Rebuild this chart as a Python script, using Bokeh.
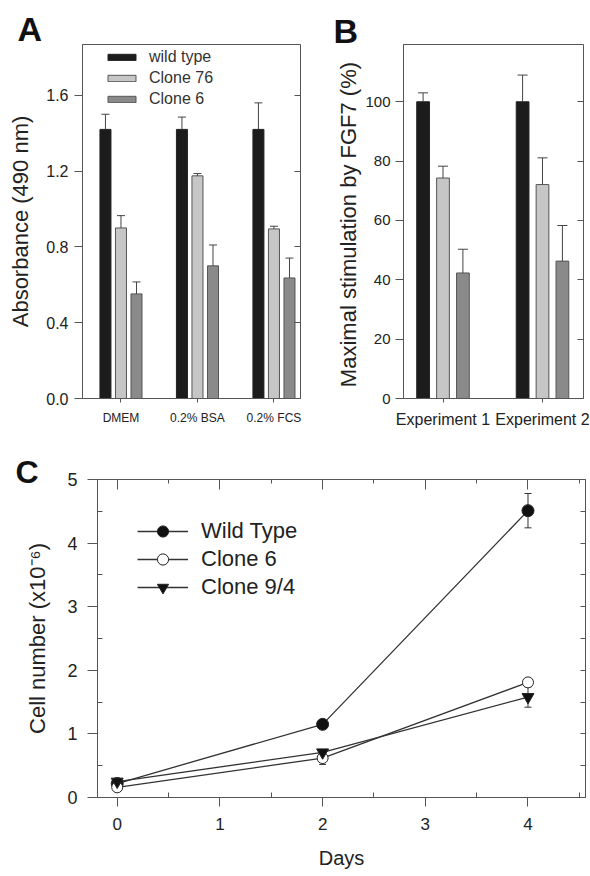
from bokeh.plotting import figure
from bokeh.layouts import column, row
from bokeh.models import (FixedTicker, LinearAxis, Range1d, Legend, LegendItem,
                          Title, PrintfTickFormatter)
from bokeh.embed import file_html
from bokeh.resources import INLINE

FONT = "Liberation Sans"
AXIS_COLOR = "#555555"
TEXT_COLOR = "#222222"

# ---------------- Panel A data ----------------
a_conditions = ["DMEM", "0.2% BSA", "0.2% FCS"]
a_series = ["wild type", "Clone 76", "Clone 6"]
a_wild = [1.42, 1.42, 1.42]
a_wild_err = [0.08, 0.065, 0.14]
a_c76 = [0.90, 1.175, 0.895]
a_c76_err = [0.065, 0.012, 0.014]
a_c6 = [0.552, 0.70, 0.636]
a_c6_err = [0.063, 0.11, 0.105]
a_yticks = [0.0, 0.4, 0.8, 1.2, 1.6]

# ---------------- Panel B data ----------------
b_experiments = ["Experiment 1", "Experiment 2"]
b_wild = [100, 100]
b_wild_err = [3, 9]
b_c76 = [74.3, 72.1]
b_c76_err = [4, 9]
b_c6 = [42.3, 46.3]
b_c6_err = [8, 12]
b_yticks = [0, 20, 40, 60, 80, 100]

# ---------------- Panel C data ----------------
c_days = [0, 2, 4]
c_series = ["Wild Type", "Clone 6", "Clone 9/4"]
c_wild = [0.22, 1.15, 4.51]
c_wild_err = [0.03, 0.05, 0.27]
c_clone6 = [0.16, 0.62, 1.81]
c_clone6_err = [0.03, 0.10, 0.05]
c_clone94 = [0.25, 0.71, 1.58]
c_clone94_err = [0.02, 0.04, 0.16]
c_xticks = [0, 1, 2, 3, 4]
c_yticks = [0, 1, 2, 3, 4, 5]

BAR_COLORS = ["#1c1c1c", "#c6c6c6", "#8a8a8a"]
BAR_LINES = ["#222222", "#555555", "#555555"]


def style_axis(ax, label_size, tick_size):
    ax.axis_line_color = AXIS_COLOR
    ax.major_tick_line_color = AXIS_COLOR
    ax.minor_tick_line_color = AXIS_COLOR
    ax.major_label_text_font = FONT
    ax.major_label_text_font_size = tick_size
    ax.major_label_text_color = TEXT_COLOR
    ax.axis_label_text_font = FONT
    ax.axis_label_text_font_size = label_size
    ax.axis_label_text_font_style = "normal"
    ax.axis_label_text_color = TEXT_COLOR


def blank_axis(ticks, tick_in, minor=None, minor_in=0):
    ax = LinearAxis(ticker=FixedTicker(ticks=ticks, minor_ticks=minor or []))
    ax.major_tick_in = tick_in
    ax.major_tick_out = 0
    ax.minor_tick_in = minor_in
    ax.minor_tick_out = 0
    ax.major_label_text_font_size = "1px"
    ax.major_label_text_color = None
    ax.major_label_standoff = 0
    ax.axis_line_color = None
    ax.major_tick_line_color = AXIS_COLOR
    ax.minor_tick_line_color = AXIS_COLOR if minor else None
    return ax


def panel_title(text, offset, standoff, size):
    return Title(text=text, align="left", offset=offset, standoff=standoff,
                 text_font=FONT, text_font_size=size, text_font_style="bold",
                 text_color="#111111")


def bar_panel(width, height, borders, xr, yr, cats, series_vals, series_errs,
              bar_w, offset, cap, ylabel, yticks, yfmt, tick_size, cat_size,
              tick_out, right_ticks, label_standoff, tick_standoff, cat_standoff):
    p = figure(width=width, height=height, x_range=Range1d(*xr), y_range=Range1d(*yr),
               output_backend="svg", toolbar_location=None, title=None,
               min_border_left=borders[0], min_border_right=borders[1],
               min_border_top=borders[2], min_border_bottom=borders[3])
    p.xgrid.visible = False
    p.ygrid.visible = False
    p.outline_line_color = AXIS_COLOR
    renderers = []
    for k, (vals, errs) in enumerate(zip(series_vals, series_errs)):
        xs = [i + 1 + (k - 1) * offset for i in range(len(cats))]
        r = p.vbar(x=xs, top=vals, bottom=0, width=bar_w, fill_color=BAR_COLORS[k],
                   line_color=BAR_LINES[k], line_width=1)
        renderers.append(r)
        tops = [v + e for v, e in zip(vals, errs)]
        p.segment(x0=xs, y0=vals, x1=xs, y1=tops, line_color="#444444", line_width=1)
        p.scatter(x=xs, y=tops, marker="dash", size=cap, line_color="#444444", line_width=1)
    xa = p.xaxis[0]
    xa.ticker = FixedTicker(ticks=[i + 1 for i in range(len(cats))])
    xa.major_label_overrides = {i + 1: c for i, c in enumerate(cats)}
    style_axis(xa, "16px", cat_size)
    xa.major_tick_out = 4
    xa.major_tick_in = 0
    xa.minor_tick_line_color = None
    xa.major_label_standoff = cat_standoff
    ya = p.yaxis[0]
    ya.ticker = FixedTicker(ticks=yticks)
    if yfmt:
        ya.formatter = PrintfTickFormatter(format=yfmt)
    style_axis(ya, "22px", tick_size)
    ya.axis_label = ylabel
    ya.major_tick_out = tick_out
    ya.major_tick_in = 0
    ya.minor_tick_line_color = None
    ya.major_label_standoff = tick_standoff
    ya.axis_label_standoff = label_standoff
    p.add_layout(blank_axis(right_ticks, 6), "right")
    return p, renderers


# ---------- Panel A ----------
pA, rA = bar_panel(310, 438, (82, 10, 44, 38), (0.497, 3.347), (0, 1.868), a_conditions,
                   [a_wild, a_c76, a_c6], [a_wild_err, a_c76_err, a_c6_err],
                   0.144, 0.203, 8, "Absorbance (490 nm)", a_yticks, "%.1f",
                   "16px", "12px", 8, a_yticks[1:], 10, 6, 8)
legA = Legend(items=[LegendItem(label=s, renderers=[r]) for s, r in zip(a_series, rA)],
              location=(22, 289), orientation="vertical")
legA.glyph_width = 35
legA.glyph_height = 8
legA.label_height = 20
legA.spacing = 1
legA.padding = 0
legA.margin = 0
legA.label_standoff = 10
legA.label_text_font = FONT
legA.label_text_font_size = "16px"
legA.label_text_color = "#333333"
legA.border_line_color = None
legA.background_fill_alpha = 0
pA.add_layout(legA, "center")
pA.add_layout(panel_title("A", -65, -6, "34px"), "above")

# ---------- Panel B ----------
pB, rB = bar_panel(280, 438, (93, 7, 40, 40), (0.603, 2.412), (0, 119.3), b_experiments,
                   [b_wild, b_c76, b_c6], [b_wild_err, b_c76_err, b_c6_err],
                   0.128, 0.2, 10, "Maximal  stimulation by FGF7 (%)", b_yticks, None,
                   "15px", "16px", 8, b_yticks[1:], 1, 5, 8)
pB.add_layout(panel_title("B", -70, -10, "34px"), "above")

# ---------- Panel C ----------
pC = figure(width=590, height=438, x_range=Range1d(-0.192, 4.56), y_range=Range1d(0, 5),
            output_backend="svg", toolbar_location=None, title=None,
            min_border_left=97, min_border_right=5, min_border_top=41, min_border_bottom=79)
pC.xgrid.visible = False
pC.ygrid.visible = False
pC.outline_line_color = AXIS_COLOR
half_x = [v + 0.5 for v in c_xticks]
half_y = [v + 0.5 for v in c_yticks[:-1]]

xa = pC.xaxis[0]
xa.ticker = FixedTicker(ticks=c_xticks, minor_ticks=half_x)
style_axis(xa, "20px", "17px")
xa.axis_label = "Days"
xa.major_tick_out = 9
xa.major_tick_in = 0
xa.minor_tick_in = 5
xa.minor_tick_out = 0
xa.major_label_standoff = 11
xa.axis_label_standoff = 14

ya = pC.yaxis[0]
ya.ticker = FixedTicker(ticks=c_yticks, minor_ticks=half_y)
style_axis(ya, "22px", "18px")
ya.axis_label = "Cell number (x10\u207b\u2076)"
ya.major_tick_out = 10
ya.major_tick_in = 0
ya.minor_tick_in = 5
ya.minor_tick_out = 0
ya.major_label_standoff = 10
ya.axis_label_standoff = 14

pC.add_layout(blank_axis(c_xticks, 10, half_x, 4), "above")
pC.add_layout(blank_axis(c_yticks, 5, half_y, 5), "right")
pC.add_layout(panel_title("C", -82, -21, "32px"), "above")

LINE_C = "#333333"
c_vals = [c_wild, c_clone6, c_clone94]
c_errs = [c_wild_err, c_clone6_err, c_clone94_err]
c_markers = ["circle", "circle", "inverted_triangle"]
c_fill = ["#111111", "white", "#111111"]
c_size = [12, 11, 12]
itemsC = []
for k in range(3):
    lo = [v - e for v, e in zip(c_vals[k], c_errs[k])]
    hi = [v + e for v, e in zip(c_vals[k], c_errs[k])]
    pC.segment(x0=c_days, y0=lo, x1=c_days, y1=hi, line_color=LINE_C, line_width=1)
    pC.scatter(x=c_days, y=lo, marker="dash", size=7, line_color=LINE_C)
    pC.scatter(x=c_days, y=hi, marker="dash", size=7, line_color=LINE_C)
    lr = pC.line(x=c_days, y=c_vals[k], line_color=LINE_C, line_width=1.3)
    itemsC.append(lr)
srC = []
for k in range(3):
    sr = pC.scatter(x=c_days, y=c_vals[k], marker=c_markers[k], size=c_size[k],
                    fill_color=c_fill[k], line_color="#222222", line_width=1)
    srC.append(sr)

legC = Legend(items=[LegendItem(label=s, renderers=[lr, sr])
                     for s, lr, sr in zip(c_series, itemsC, srC)],
              location=(40, 196), orientation="vertical")
legC.glyph_width = 51
legC.glyph_height = 28
legC.label_height = 28
legC.spacing = 0
legC.padding = 0
legC.margin = 0
legC.label_standoff = 13
legC.label_text_font = FONT
legC.label_text_font_size = "22px"
legC.label_text_color = TEXT_COLOR
legC.border_line_color = None
legC.background_fill_alpha = 0
pC.add_layout(legC, "center")

layout = column(row(pA, pB), pC)
open("out.html", "w").write(file_html(layout, INLINE))
